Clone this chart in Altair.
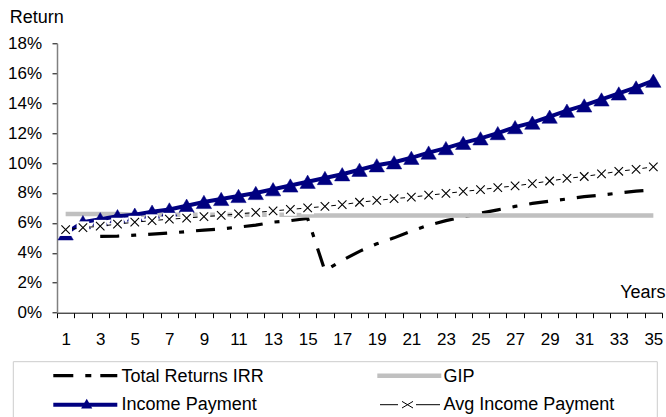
import altair as alt
import pandas as pd

# ---- data (returns in percent) ----
years = list(range(1, 36))

total_returns_irr = [None, None, 5.10, 5.12, 5.18, 5.25, 5.32, 5.42, 5.52, 5.60,
                     5.72, 5.85, 6.05, 6.15, 6.30, 2.80, 3.50, 4.10, 4.60, 5.00,
                     5.45, 5.85, 6.15, 6.40, 6.65, 6.87, 7.10, 7.30, 7.45, 7.60,
                     7.75, 7.86, 8.00, 8.12, 8.20]

gip = [6.60, 6.60, 6.60, 6.60, 6.55, 6.55, 6.55, 6.55, 6.55, 6.55,
       6.55, 6.55, 6.55, 6.55, 6.50, 6.50, 6.50, 6.50, 6.50, 6.50,
       6.50, 6.50, 6.50, 6.50, 6.50, 6.50, 6.50, 6.50, 6.50, 6.50,
       6.50, 6.50, 6.50, 6.50, 6.50]

income_payment = [5.30, 6.05, 6.25, 6.45, 6.55, 6.75, 6.90, 7.15, 7.40, 7.60,
                  7.80, 8.00, 8.25, 8.50, 8.75, 9.00, 9.25, 9.55, 9.85, 10.05,
                  10.35, 10.70, 11.00, 11.35, 11.65, 12.00, 12.40, 12.70, 13.10, 13.50,
                  13.85, 14.25, 14.65, 15.05, 15.50]

avg_income_payment = [5.55, 5.68, 5.78, 5.92, 6.05, 6.15, 6.25, 6.32, 6.42, 6.50,
                      6.60, 6.70, 6.80, 6.90, 7.00, 7.10, 7.22, 7.38, 7.50, 7.62,
                      7.72, 7.85, 7.97, 8.10, 8.22, 8.36, 8.47, 8.63, 8.80, 8.97,
                      9.10, 9.27, 9.45, 9.58, 9.75]

series_names = ["Total Returns IRR", "GIP", "Income Payment", "Avg Income Payment"]
y_ticks = [0, 2, 4, 6, 8, 10, 12, 14, 16, 18]

# ---- long table ----
rows = []
for name, vals in zip(series_names,
                      [total_returns_irr, gip, income_payment, avg_income_payment]):
    for yr, v in zip(years, vals):
        if v is not None:
            rows.append({"year": yr, "series": name, "value": v})
df = pd.DataFrame(rows)

# ---- styling ----
FONT = "Liberation Sans"
NAVY = "#000080"
GREY = "#C0C0C0"
IRR_DASH = [19, 12, 5, 12]
X_PATH = "M-1,-1L1,1M-1,1L1,-1"

W, H = 605, 269.4
band = W / len(years)
x_bounds = [y - 0.5 for y in years] + [years[-1] + 0.5]

x_enc = alt.X(
    "year:Q",
    scale=alt.Scale(domain=[x_bounds[0], x_bounds[-1]], nice=False, zero=False),
    axis=alt.Axis(
        values=x_bounds,
        labelExpr="(datum.value % 2) == 0.5 ? format(datum.value + 0.5, 'd') : ''",
        labelOffset=band / 2,
        labelAngle=0,
        labelFlush=False,
        labelOverlap=False,
        labelFontSize=17,
        labelPadding=14,
        labelColor="black",
        tickSize=5,
        tickColor="black",
        domainColor="black",
        grid=False,
        title="Years",
        titleAlign="right",
        titleAnchor="start",
        titleX=W + 3,
        titleY=-15,
        titleBaseline="alphabetic",
        titleFontSize=18,
        titleFontWeight="normal",
        titleColor="black",
    ),
)

y_enc = alt.Y(
    "value:Q",
    scale=alt.Scale(domain=[y_ticks[0], y_ticks[-1]], nice=False),
    axis=alt.Axis(
        values=y_ticks,
        labelExpr="datum.value + '%'",
        labelFontSize=17,
        labelPadding=10.5,
        labelColor="black",
        tickSize=5,
        tickColor="black",
        domainColor="#808080",
        domainWidth=1.5,
        grid=False,
        title="Return",
        titleAngle=0,
        titleAlign="left",
        titleAnchor="start",
        titleX=-47.7,
        titleY=-20.6,
        titleBaseline="alphabetic",
        titleFontSize=18,
        titleFontWeight="normal",
        titleColor="black",
    ),
)

base = alt.Chart(df)


def series_of(name):
    return base.transform_filter(alt.datum.series == name)


irr_line = series_of("Total Returns IRR").mark_line(
    color="black", strokeDash=IRR_DASH, strokeWidth=3.2, strokeCap="butt"
).encode(x=x_enc, y=y_enc)

gip_line = series_of("GIP").mark_line(
    color=GREY, strokeWidth=4.5
).encode(x=x_enc, y=y_enc)

income_line = series_of("Income Payment").mark_line(
    color=NAVY, strokeWidth=4
).encode(x=x_enc, y=y_enc)

income_pts = series_of("Income Payment").mark_point(
    shape="triangle-up", filled=True, size=235, color=NAVY,
    stroke=NAVY, strokeWidth=0.5, opacity=1
).encode(x=x_enc, y=y_enc)

avg_line = series_of("Avg Income Payment").mark_line(
    color="black", strokeWidth=1
).encode(x=x_enc, y=y_enc)

avg_boxes = series_of("Avg Income Payment").mark_point(
    shape="square", filled=True, size=160, color="white", opacity=1
).encode(x=x_enc, y=y_enc)

avg_marks = series_of("Avg Income Payment").mark_point(
    shape=X_PATH, filled=False, size=72, color="black", strokeWidth=1.1, opacity=1
).encode(x=x_enc, y=y_enc)

# ---- legend block below the plot (pixel offsets from the plot origin) ----
one = pd.DataFrame({"k": [0]})
ROW_Y = [332.4, 361.4]
BASE_Y = [338.4, 366.9]
COL_X = [-3.7, 320.3]
SW = 64


def leg_rule(x0, x1, y, **kw):
    return alt.Chart(one).mark_rule(strokeCap="butt", **kw).encode(
        x=alt.value(x0), x2=alt.value(x1), y=alt.value(y)
    )


def leg_text(label, x, y):
    return alt.Chart(one).mark_text(
        align="left", baseline="alphabetic", fontSize=18, color="black", font=FONT
    ).encode(x=alt.value(x), y=alt.value(y), text=alt.value(label))


def leg_point(x, y, **kw):
    return alt.Chart(one).mark_point(opacity=1, **kw).encode(
        x=alt.value(x), y=alt.value(y)
    )


legend_frame = alt.Chart(one).mark_rect(
    fillOpacity=0, stroke="#CCCCCC", strokeWidth=1
).encode(
    x=alt.value(-43.7), x2=alt.value(600.3), y=alt.value(318.4), y2=alt.value(420)
)

lg = [legend_frame]
# Total Returns IRR
lg.append(leg_rule(COL_X[0], COL_X[0] + SW, ROW_Y[0], color="black",
                   strokeWidth=3.2, strokeDash=[20, 12, 6, 9]))
lg.append(leg_text(series_names[0], COL_X[0] + SW + 4.3, BASE_Y[0]))
# GIP
lg.append(leg_rule(COL_X[1], COL_X[1] + SW, ROW_Y[0], color=GREY, strokeWidth=4.5))
lg.append(leg_text(series_names[1], COL_X[1] + SW + 2.3, BASE_Y[0]))
# Income Payment
lg.append(leg_rule(COL_X[0], COL_X[0] + SW, ROW_Y[1], color=NAVY, strokeWidth=4))
lg.append(leg_point(COL_X[0] + 33.4, ROW_Y[1] - 1, shape="triangle-up", filled=True,
                    size=125, color=NAVY))
lg.append(leg_text(series_names[2], COL_X[0] + SW + 4.3, BASE_Y[1]))
# Avg Income Payment
lg.append(leg_rule(COL_X[1] + 2.7, COL_X[1] + 20.7, ROW_Y[1], color="black", strokeWidth=1))
lg.append(leg_rule(COL_X[1] + 38.7, COL_X[1] + 62.7, ROW_Y[1], color="black", strokeWidth=1))
lg.append(leg_point(COL_X[1] + 30.2, ROW_Y[1], shape="M-1,-0.6L1,0.6M-1,0.6L1,-0.6",
                    filled=False, size=121, color="black", strokeWidth=1))
lg.append(leg_text(series_names[3], COL_X[1] + SW + 2.3, BASE_Y[1]))

chart = (
    alt.layer(
        irr_line, gip_line, income_line, income_pts,
        avg_line, avg_boxes, avg_marks, *lg,
    )
    .properties(
        width=W,
        height=H,
        autosize=alt.AutoSizeParams(type="none"),
        padding={"left": 57, "top": 43.3, "right": 4, "bottom": 104.3},
        background="white",
    )
    .configure(font=FONT)
    .configure_view(stroke=None)
)

chart.save("out.html", embed_options={"renderer": "svg", "actions": False})
